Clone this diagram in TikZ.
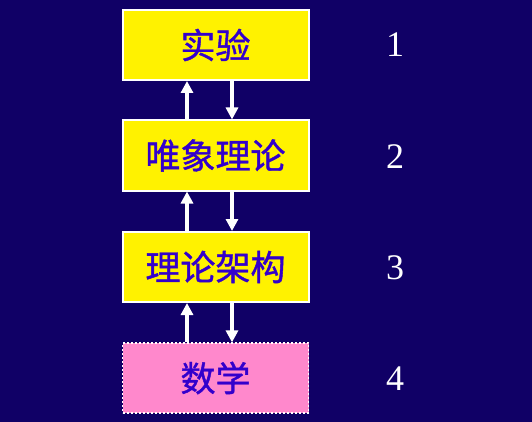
\documentclass[tikz,border=0pt]{standalone}
\usepackage{fontspec}
\setmainfont{Liberation Serif}
\newfontfamily\cjk{Noto Sans CJK SC}[FakeBold=1.2]
\usetikzlibrary{arrows.meta}
\definecolor{navybg}{RGB}{16,0,102}
\definecolor{boxtext}{RGB}{51,0,204}
\definecolor{pinkbox}{RGB}{255,136,204}
\begin{document}
\begin{tikzpicture}[x=1pt, y=-1pt,
    level/.style={draw=white, line width=2pt, fill=yellow, text=boxtext,
        minimum width=186pt, minimum height=70pt, inner sep=0pt,
        font=\cjk\fontsize{35}{35}\selectfont},
    base/.style={level, fill=pinkbox, dotted, line width=1.2pt},
    link/.style={white, line width=4pt, -{Triangle[width=12pt,length=12pt]}},
    num/.style={white, font=\fontsize{36}{36}\selectfont}]
    \useasboundingbox[fill=navybg] (0,0) rectangle (532,422);
    % Draw levels
        \node[level] (l1) at (215.5,45) {实验};
        \node[level] (l2) at (215.5,155.5) {唯象理论};
        \node[level] (l3) at (215.5,267) {理论架构};
        \node[base]  (l4) at (215.5,378) {数学};
    % Draw arrows between levels
        \foreach \a/\b in {1/2,2/3,3/4} {
            \draw[link] ([xshift=-28.5pt]l\b.north) -- ([xshift=-28.5pt]l\a.south);
            \draw[link] ([xshift=16.5pt]l\a.south) -- ([xshift=16.5pt]l\b.north);
        }
    % Draw numbers
        \foreach \k/\y in {1/45,2/157,3/268,4/379} {
            \node[num] (n\k) at (395,\y) {\k};
        }
\end{tikzpicture}
\end{document}
